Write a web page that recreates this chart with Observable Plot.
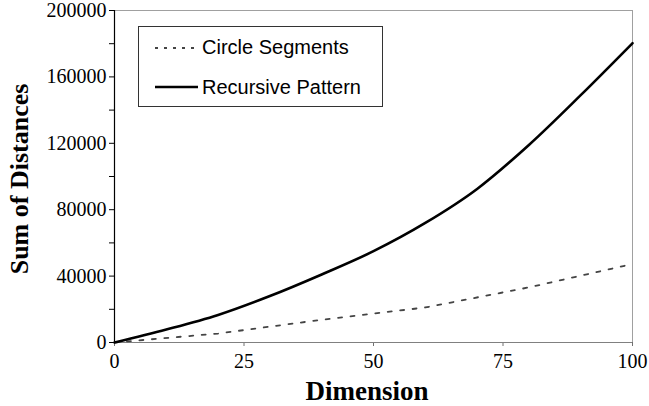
<!DOCTYPE html>
<html>
<head>
<meta charset="utf-8">
<script src="https://cdn.jsdelivr.net/npm/d3@7"></script>
<script src="https://cdn.jsdelivr.net/npm/@observablehq/plot@0.6"></script>
<style>
  html, body { margin: 0; padding: 0; background: #fff; }
  #chart { width: 649px; height: 406px; }
</style>
</head>
<body>
<div id="chart"></div>
<script>
const circleDims = [0, 20, 40, 60, 80, 100];
const circleSegments = [0, 5400, 13700, 21100, 33200, 47300];
const recDims = [0, 10, 20, 30, 40, 50, 60, 70, 80, 90, 100];
const recursivePattern = [0, 7800, 16600, 28000, 41000, 55000, 72000, 92500, 119000, 149000, 180300];
const xTicks = [0, 25, 50, 75, 100];
const yTicks = d3.range(0, 200001, 20000);
const yLabelStep = 40000;
const seriesNames = ["Circle Segments", "Recursive Pattern"];

const circleData = circleDims.map((d, i) => ({dim: d, value: circleSegments[i]}));
const recData = recDims.map((d, i) => ({dim: d, value: recursivePattern[i]}));

const chart = Plot.plot({
  width: 649,
  height: 406,
  marginLeft: 114,
  marginRight: 17,
  marginTop: 10,
  marginBottom: 64,
  style: {fontFamily: "'Liberation Serif', serif", fontSize: "20px", background: "#fff", color: "#000", overflow: "visible"},
  x: {domain: [0, 100]},
  y: {domain: [0, 200000]},
  marks: [
    Plot.ruleY([200000], {stroke: "#a0a0a0", strokeWidth: 1}),
    Plot.ruleX([100], {stroke: "#a0a0a0", strokeWidth: 1}),
    Plot.axisX({ticks: xTicks, tickSize: 4, tickPadding: 7, stroke: "#707070", label: null, fill: "#000", fontSize: 20}),
    Plot.ruleY([0], {stroke: "#808080", strokeWidth: 1.2}),
    Plot.axisY({ticks: yTicks, tickSize: 5, tickPadding: 3, tickFormat: d => d % yLabelStep === 0 ? String(d) : "", label: null, fontSize: 20}),
    Plot.ruleX([0], {stroke: "#000", strokeWidth: 1.2}),
    Plot.line(circleData, {x: "dim", y: "value", stroke: "#444", strokeWidth: 1.8, strokeDasharray: "4,8.5"}),
    Plot.line(recData, {x: "dim", y: "value", stroke: "#000", strokeWidth: 2.6, curve: "monotone-x"})
  ]
});

const svg = d3.select(chart);
// axis titles
svg.append("text")
  .attr("x", 367).attr("y", 400)
  .attr("text-anchor", "middle")
  .attr("font-family", "'Liberation Serif', serif")
  .attr("font-weight", "bold").attr("font-size", 27)
  .text("Dimension");
svg.append("text")
  .attr("transform", "translate(28,179) rotate(-90)")
  .attr("text-anchor", "middle")
  .attr("font-family", "'Liberation Serif', serif")
  .attr("font-weight", "bold").attr("font-size", 26)
  .text("Sum of Distances");

// legend
const lg = svg.append("g");
lg.append("rect").attr("x", 138.5).attr("y", 26.5).attr("width", 244).attr("height", 80)
  .attr("fill", "#fff").attr("stroke", "#333").attr("stroke-width", 1);
lg.append("line").attr("x1", 155).attr("x2", 198).attr("y1", 48).attr("y2", 48)
  .attr("stroke", "#444").attr("stroke-width", 1.8).attr("stroke-dasharray", "3,6");
lg.append("line").attr("x1", 155).attr("x2", 198).attr("y1", 87).attr("y2", 87)
  .attr("stroke", "#000").attr("stroke-width", 2.4);
lg.selectAll("text.lt").data(seriesNames).join("text")
  .attr("x", 202).attr("y", (d, i) => i === 0 ? 54 : 94)
  .attr("text-anchor", "start")
  .attr("font-family", "'Liberation Sans', Arial, sans-serif").attr("font-size", 20)
  .text(d => d);

document.getElementById("chart").appendChild(chart);
</script>
</body>
</html>
